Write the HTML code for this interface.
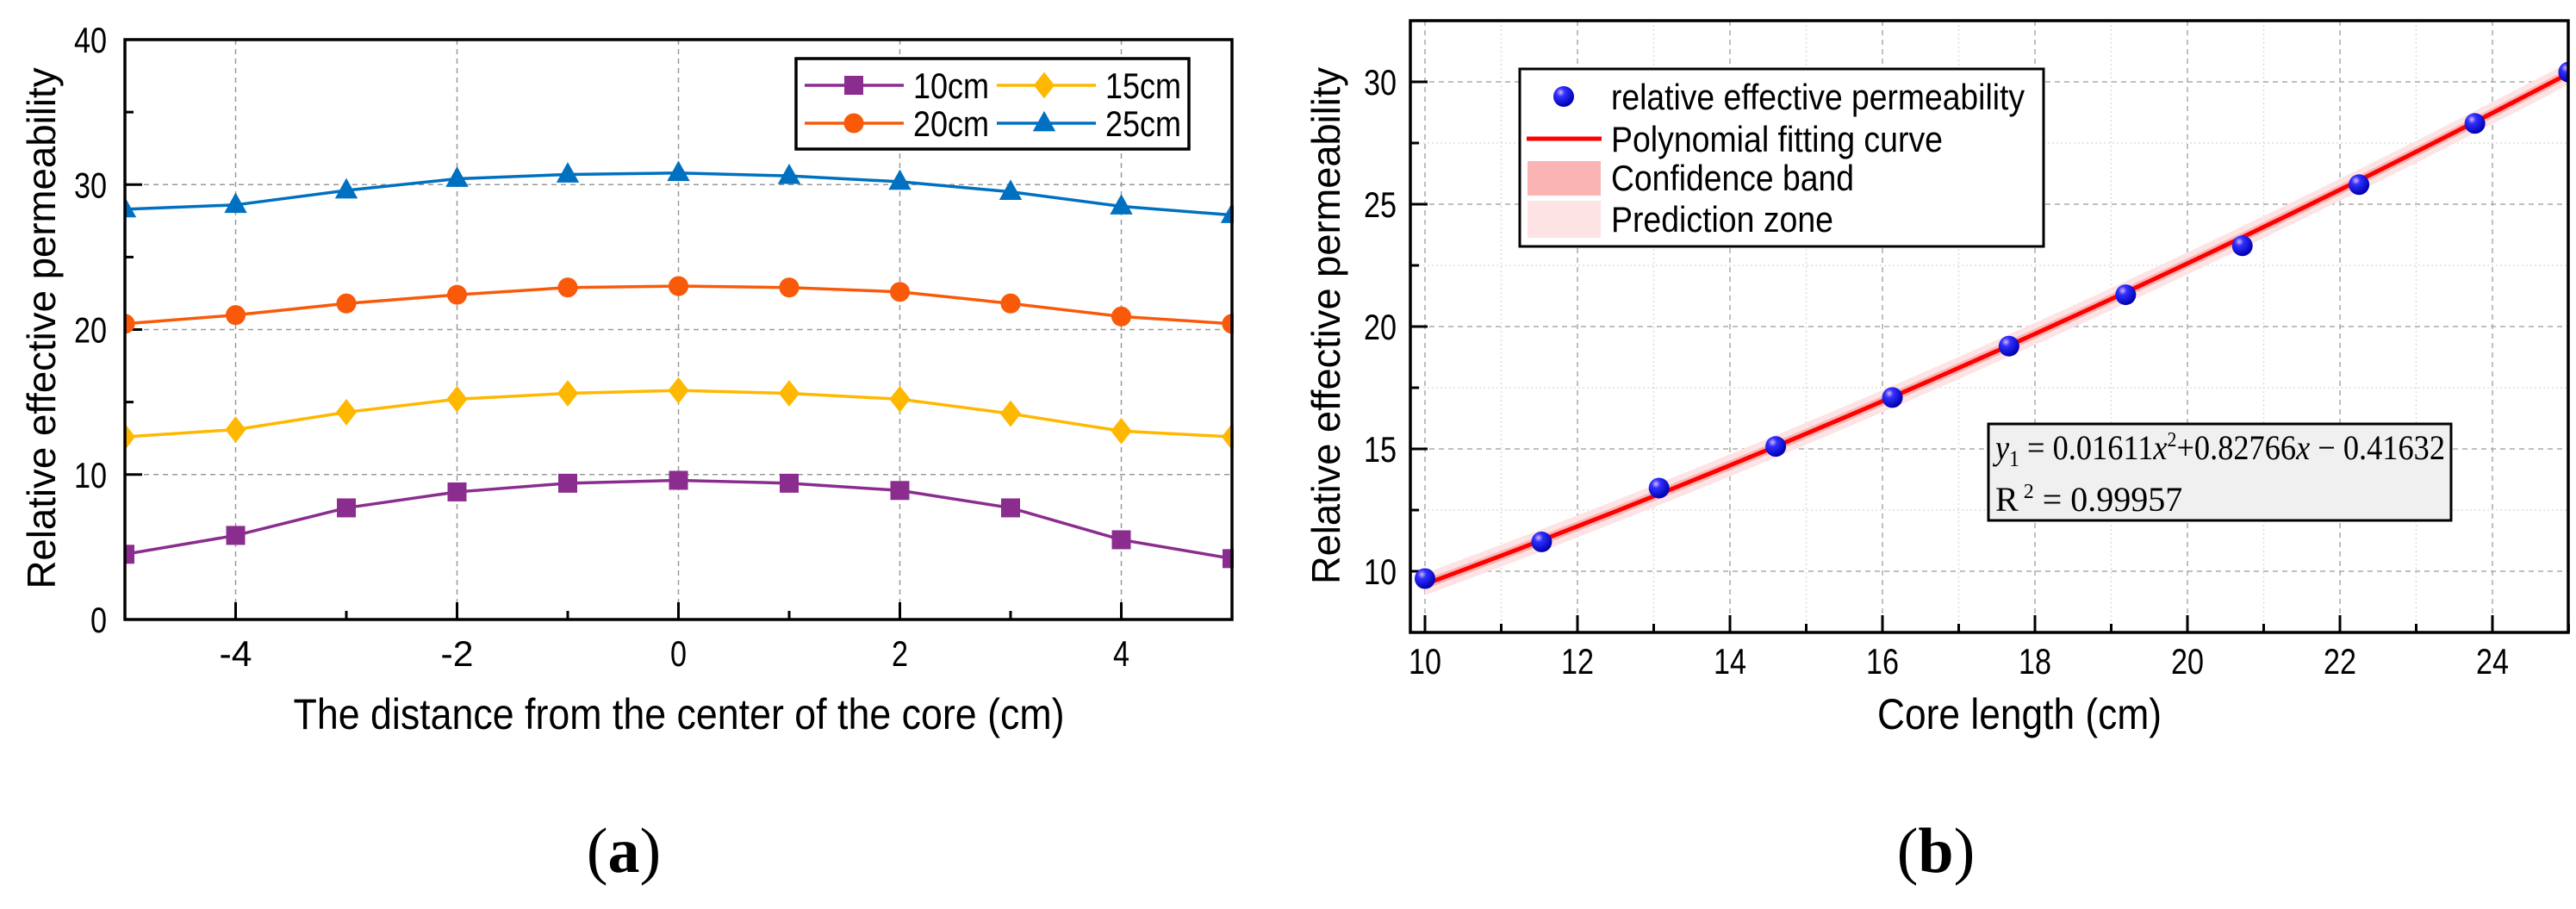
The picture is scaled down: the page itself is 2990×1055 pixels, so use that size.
<!DOCTYPE html>
<html><head><meta charset="utf-8"><style>
html,body{margin:0;padding:0;background:#fff;}
svg{display:block;}
</style></head><body>
<svg id="fig" width="2990" height="1055" viewBox="0 0 2990 1055" xmlns="http://www.w3.org/2000/svg">
<rect width="2990" height="1055" fill="#fff"/>
</svg>
<script>
// ---- Chart (a) data ----
const aX = [-5,-4,-3,-2,-1,0,1,2,3,4,5];
const a10 = [4.5,5.8,7.7,8.8,9.4,9.6,9.4,8.9,7.7,5.5,4.2];
const a15 = [12.6,13.1,14.3,15.2,15.6,15.8,15.6,15.2,14.2,13.0,12.6];
const a20 = [20.4,21.0,21.8,22.4,22.9,23.0,22.9,22.6,21.8,20.9,20.4];
const a25 = [28.3,28.6,29.6,30.4,30.7,30.8,30.6,30.2,29.5,28.5,27.9];
const aXTicks = [-4,-2,0,2,4];
const aYTicks = [0,10,20,30,40];
// ---- Chart (b) data ----
const bX = [10,11.53,13.07,14.6,16.13,17.66,19.19,20.72,22.25,23.77,25.0];
const bY = [9.7,11.2,13.4,15.1,17.1,19.2,21.3,23.3,25.8,28.3,30.4];
const bCoef = [0.01611,0.82766,-0.41632];
const bXTicks = [10,12,14,16,18,20,22,24];
const bYTicks = [10,15,20,25,30];

const NS='http://www.w3.org/2000/svg';
const svg=document.getElementById('fig');
const NARROW='Liberation Sans Narrow, Liberation Sans, sans-serif';
function mk(tag,attrs,parent,text){const e=document.createElementNS(NS,tag);for(const k in attrs)e.setAttribute(k,attrs[k]);if(text!==undefined)e.textContent=text;(parent||svg).appendChild(e);return e;}
function squeeze(e,len){e.setAttribute('textLength',len);e.setAttribute('lengthAdjust','spacingAndGlyphs');return e;}

// ===== Chart A =====
const A={l:145,r:1430,t:46,b:719,x0:-5,x1:5,y0:0,y1:40};
const ax=v=>A.l+(v-A.x0)/(A.x1-A.x0)*(A.r-A.l);
const ay=v=>A.b-(v-A.y0)/(A.y1-A.y0)*(A.b-A.t);
const gA=mk('g',{});


for(let v=-4;v<=4;v+=2){const l=mk('line',{x1:ax(v),x2:ax(v),y1:A.t,y2:A.b,stroke:'#999','stroke-width':1.5,'stroke-dasharray':'6,5'},gA);}
for(let v=10;v<=30;v+=10){const l=mk('line',{x1:A.l,x2:A.r,y1:ay(v),y2:ay(v),stroke:'#999','stroke-width':1.5,'stroke-dasharray':'6,5'},gA);}
for(let v=-4;v<=4;v+=1){mk('line',{x1:ax(v),x2:ax(v),y1:A.b,y2:A.b-(v%2===0?20:10),stroke:'#000','stroke-width':3},gA);}
for(let v=0;v<=40;v+=5){mk('line',{x1:A.l,x2:A.l+(v%10===0?20:10),y1:ay(v),y2:ay(v),stroke:'#000','stroke-width':3},gA);}
const aSeries=[{d:a10,c:'#8B2C8F',m:'sq',n:'10cm'},{d:a15,c:'#FFB800',m:'di',n:'15cm'},{d:a20,c:'#F95A0A',m:'ci',n:'20cm'},{d:a25,c:'#0070C0',m:'tr',n:'25cm'}];
function marker(g,type,x,y,c,s){
  if(type==='sq')return mk('rect',{x:x-s,y:y-s,width:2*s,height:2*s,fill:c},g);
  if(type==='ci')return mk('circle',{cx:x,cy:y,r:s*1.05,fill:c},g);
  if(type==='di')return mk('polygon',{points:`${x},${y-s*1.4} ${x+s*1.1},${y} ${x},${y+s*1.4} ${x-s*1.1},${y}`,fill:c},g);
  return mk('polygon',{points:`${x},${y-s*1.3} ${x+s*1.2},${y+s*0.85} ${x-s*1.2},${y+s*0.85}`,fill:c},g);
}
const clipA=mk('clipPath',{id:'clipA'});mk('rect',{x:A.l,y:A.t-20,width:A.r-A.l+2,height:A.b-A.t+40},clipA);
aSeries.forEach(s=>{
  const g=mk('g',{'clip-path':'url(#clipA)'},gA);
  
  
  mk('polyline',{points:aX.map((x,i)=>ax(x)+','+ay(s.d[i])).join(' '),fill:'none',stroke:s.c,'stroke-width':3.5},g);
  aX.forEach((x,i)=>{const m=marker(g,s.m,ax(x),ay(s.d[i]),s.c,11);});
});
mk('rect',{x:A.l,y:A.t,width:A.r-A.l,height:A.b-A.t,fill:'none',stroke:'#000','stroke-width':3.5},gA);
aXTicks.forEach(v=>{const t=mk('text',{x:ax(v),y:773,'text-anchor':'middle','font-size':42,'font-family':NARROW},gA,String(v));squeeze(t,String(v).length*19);});
aYTicks.forEach(v=>{const t=mk('text',{x:124,y:ay(v)+15,'text-anchor':'end','font-size':42,'font-family':NARROW},gA,String(v));squeeze(t,String(v).length*19);});
let t=mk('text',{x:788,y:846,'text-anchor':'middle','font-size':50,'font-family':NARROW},gA,'The distance from the center of the core (cm)');
squeeze(t,895);

t=mk('text',{x:0,y:0,transform:'translate(64,381) rotate(-90)','text-anchor':'middle','font-size':46,'font-family':'Liberation Sans, sans-serif'},gA,'Relative effective permeability');
squeeze(t,605);

// legend A
const lgA=mk('g',{},gA);
mk('rect',{x:924,y:68,width:456,height:105,fill:'#fff',stroke:'#000','stroke-width':3.5},lgA);
[[0,934,991,1060,99],[1,1157,1212,1283,99],[2,934,991,1060,143],[3,1157,1212,1283,143]].forEach(([i,lx,mx,tx,y])=>{
  const s=aSeries[i];const e=mk('g',{},lgA);
  mk('line',{x1:lx,x2:lx+115,y1:y,y2:y,stroke:s.c,'stroke-width':3.5},e);
  marker(e,s.m,mx,y,s.c,11);
  const tt=mk('text',{x:tx,y:y+15,'font-size':42,'font-family':NARROW},e,s.n);
  squeeze(tt,88);
});
t=mk('text',{x:724,y:1012,'text-anchor':'middle','font-size':74,'font-family':'Liberation Serif, serif'});
t.innerHTML='(<tspan font-weight="bold">a</tspan>)';


// ===== Chart B =====
const B={l:1637,r:2981,t:24,b:734,y0:7.5,y1:32.5};
B.x0=10-(1654-1637)/88.5;
B.x1=B.x0+(B.r-B.l)/88.5;
const bx=v=>B.l+(v-B.x0)/(B.x1-B.x0)*(B.r-B.l);
const by=v=>B.b-(v-B.y0)/(B.y1-B.y0)*(B.b-B.t);
const gB=mk('g',{});


for(let v=10;v<=25;v+=1){const l=mk('line',{x1:bx(v),x2:bx(v),y1:B.t,y2:B.b,stroke:v%2===0?'#aaa':'#ddd','stroke-width':1.5,'stroke-dasharray':v%2===0?'6,5':'2,3'},gB);}
for(let v=10;v<=32.5;v+=2.5){const l=mk('line',{x1:B.l,x2:B.r,y1:by(v),y2:by(v),stroke:v%5===0?'#aaa':'#ddd','stroke-width':1.5,'stroke-dasharray':v%5===0?'6,5':'2,3'},gB);}
for(let v=10;v<=25;v+=1){mk('line',{x1:bx(v),x2:bx(v),y1:B.b,y2:B.b-(v%2===0?20:10),stroke:'#000','stroke-width':3},gB);}
for(let v=10;v<=32.5;v+=2.5){mk('line',{x1:B.l,x2:B.l+(v%5===0?20:10),y1:by(v),y2:by(v),stroke:'#000','stroke-width':3},gB);}
const fit=x=>bCoef[0]*x*x+bCoef[1]*x+bCoef[2];
const xs=[];for(let i=0;i<=60;i++)xs.push(bX[0]+(bX[bX.length-1]-bX[0])*i/60);
const band=(w,c,name)=>{const p=mk('polygon',{points:xs.map(x=>bx(x)+','+by(fit(x)+w)).concat(xs.slice().reverse().map(x=>bx(x)+','+by(fit(x)-w))).join(' '),fill:c},gB);};
band(0.45,'#FDE3E3','prediction-band');
band(0.2,'#FBB4B4','confidence-band');
let fl=mk('polyline',{points:xs.map(x=>bx(x)+','+by(fit(x))).join(' '),fill:'none',stroke:'#F00','stroke-width':5},gB);

const defs=mk('defs',{});
const rg=mk('radialGradient',{id:'ball',cx:'0.35',cy:'0.3',r:'0.7'},defs);
mk('stop',{offset:'0','stop-color':'#d9b3ff'},rg);mk('stop',{offset:'0.3','stop-color':'#3030ff'},rg);mk('stop',{offset:'1','stop-color':'#0000b0'},rg);
const clipB=mk('clipPath',{id:'clipB'});mk('rect',{x:B.l,y:B.t,width:B.r-B.l,height:B.b-B.t},clipB);
const gp=mk('g',{'clip-path':'url(#clipB)'},gB);
bX.forEach((x,i)=>{const c=mk('circle',{cx:bx(x),cy:by(bY[i]),r:12,fill:'url(#ball)'},gp);});
mk('rect',{x:B.l,y:B.t,width:B.r-B.l,height:B.b-B.t,fill:'none',stroke:'#000','stroke-width':3.5},gB);
bXTicks.forEach(v=>{const t=mk('text',{x:bx(v),y:782,'text-anchor':'middle','font-size':42,'font-family':NARROW},gB,String(v));squeeze(t,String(v).length*19);});
bYTicks.forEach(v=>{const t=mk('text',{x:1621,y:by(v)+15,'text-anchor':'end','font-size':42,'font-family':NARROW},gB,String(v));squeeze(t,String(v).length*19);});
t=mk('text',{x:2344,y:846,'text-anchor':'middle','font-size':50,'font-family':NARROW},gB,'Core length (cm)');
squeeze(t,330);

t=mk('text',{x:0,y:0,transform:'translate(1555,378) rotate(-90)','text-anchor':'middle','font-size':46,'font-family':'Liberation Sans, sans-serif'},gB,'Relative effective permeability');
squeeze(t,600);

// legend B
const lgB=mk('g',{},gB);
mk('rect',{x:1764,y:80,width:608,height:206,fill:'#fff',stroke:'#000','stroke-width':3},lgB);
mk('circle',{cx:1815,cy:112,r:12,fill:'url(#ball)'},lgB);
mk('line',{x1:1772,x2:1859,y1:161,y2:161,stroke:'#F00','stroke-width':5},lgB);
mk('rect',{x:1773,y:187,width:85,height:40,fill:'#FBB4B4'},lgB);
mk('rect',{x:1773,y:233,width:85,height:43,fill:'#FDE3E3'},lgB);
[['relative effective permeability',112,480],['Polynomial fitting curve',161,385],['Confidence band',206,282],['Prediction zone',254,258]].forEach(([s,y,w])=>{const e=mk('text',{x:1870,y:y+15,'font-size':42,'font-family':NARROW},lgB,s);squeeze(e,w);});
// equation box
const eq=mk('g',{},gB);
mk('rect',{x:2308,y:492,width:537,height:112,fill:'#f0f0f0',stroke:'#000','stroke-width':3},eq);
t=mk('text',{x:2316,y:533,'font-size':40,'font-family':'Liberation Serif, serif'},eq);
t.innerHTML='<tspan font-style="italic">y</tspan><tspan font-size="26" dy="8">1</tspan><tspan dy="-8"> = 0.01611</tspan><tspan font-style="italic">x</tspan><tspan font-size="24" dy="-15">2</tspan><tspan dy="15">+0.82766</tspan><tspan font-style="italic">x</tspan> − 0.41632';
squeeze(t,522);
t=mk('text',{x:2316,y:593,'font-size':40,'font-family':'Liberation Serif, serif'},eq);
t.innerHTML='R<tspan font-size="24" dy="-15"> 2</tspan><tspan dy="15"> = 0.99957</tspan>';

t=mk('text',{x:2247,y:1012,'text-anchor':'middle','font-size':74,'font-family':'Liberation Serif, serif'});
t.innerHTML='(<tspan font-weight="bold">b</tspan>)';

</script>
</body></html>
